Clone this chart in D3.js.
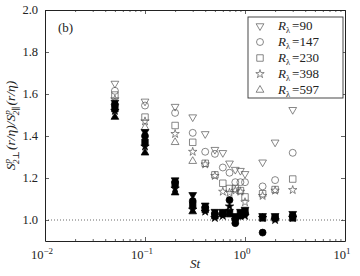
<!DOCTYPE html>
<html>
<head>
<meta charset="utf-8">
<script src="https://cdn.jsdelivr.net/npm/d3@7"></script>
<style>
  body { margin: 0; background: #fff; }
  svg text { font-family: "Liberation Serif", "DejaVu Serif", serif; fill: #222; }
</style>
</head>
<body>
<div id="chart"></div>
<script>
// Stokes numbers at which each R_lambda was measured
const stAll = [0.05, 0.1, 0.2, 0.3, 0.4, 0.5, 0.6, 0.7, 0.8, 0.9, 1.0, 1.5, 2.0, 3.0];
const stLow = [0.05, 0.1, 0.2, 0.3];

const labels = ["90", "147", "230", "398", "597"];
const shapes = ["tri-down", "circle", "square", "star", "tri-up"];

// open markers: ratio at one separation
const open90  = [1.65, 1.565, 1.54, 1.49, 1.41, 1.335, 1.32, 1.27, 1.24, 1.235, 1.22, 1.275, 1.37, 1.525];
const open147 = [1.615, 1.545, 1.51, 1.415, 1.325, 1.315, 1.25, 1.225, 1.18, 1.18, 1.18, 1.16, 1.19, 1.32];
const open230 = [1.595, 1.49, 1.45, 1.37, 1.27, 1.215, 1.175, 1.15, 1.15, 1.14, 1.11, 1.125, 1.145, 1.195];
const open398 = [1.575, 1.47, 1.41, 1.325, 1.265, 1.21, 1.135, 1.13, 1.14, 1.135, 1.085, 1.115, 1.14, 1.143];
const open597 = [1.56, 1.44, 1.37, 1.28];

// filled markers: ratio at the other separation
const fill90  = [1.56, 1.42, 1.19, 1.12, 1.07, 1.04, 1.04, 1.04, 1.02, 1.04, 1.05, 1.02, 1.02, 1.03];
const fill147 = [1.55, 1.40, 1.18, 1.09, 1.06, 1.03, 1.03, 1.095, 0.985, 1.02, 1.03, 0.94, 1.01, 1.02];
const fill230 = [1.53, 1.37, 1.17, 1.07, 1.05, 1.02, 1.03, 1.03, 1.01, 1.03, 1.04, 1.01, 1.01, 1.01];
const fill398 = [1.52, 1.35, 1.15, 1.05, 1.04, 1.01, 1.02, 1.065, 1.00, 1.02, 1.02, 1.01, 1.00, 1.01];
const fill597 = [1.49, 1.32, 1.13, 1.04];

const series = [
  { st: stAll, open: open90,  fill: fill90 },
  { st: stAll, open: open147, fill: fill147 },
  { st: stAll, open: open230, fill: fill230 },
  { st: stAll, open: open398, fill: fill398 },
  { st: stLow, open: open597, fill: fill597 },
];

const W = 360, H = 276;
const m = { left: 45, right: 15, top: 10, bottom: 35 };

const svg = d3.select("#chart").append("svg").attr("width", W).attr("height", H);

const x = d3.scaleLog().domain([0.01, 10]).range([m.left, W - m.right]);
const y = d3.scaleLinear().domain([0.9, 2.0]).range([H - m.bottom, m.top]);

const symbolFor = {
  "tri-down": d3.symbol(d3.symbolTriangle, 26),
  "tri-up": d3.symbol(d3.symbolTriangle, 26),
  "circle": d3.symbol(d3.symbolCircle, 38),
  "square": d3.symbol(d3.symbolSquare, 42),
  "star": d3.symbol(d3.symbolStar, 22),
};
const rot = s => s === "tri-down" ? " rotate(180)" : "";

// dotted reference line at 1
svg.append("line")
  .attr("x1", x(0.01)).attr("x2", x(10))
  .attr("y1", y(1)).attr("y2", y(1))
  .attr("stroke", "#444").attr("stroke-width", 0.8)
  .attr("stroke-dasharray", "1,2");

// markers
series.forEach((s, i) => {
  svg.append("g").selectAll("path").data(s.st.map((st, k) => [st, s.open[k]])).join("path")
    .attr("d", symbolFor[shapes[i]])
    .attr("transform", d => `translate(${x(d[0])},${y(d[1])})${rot(shapes[i])}`)
    .attr("fill", "none").attr("stroke", "#555").attr("stroke-width", 0.7);
});
series.forEach((s, i) => {
  svg.append("g").selectAll("path").data(s.st.map((st, k) => [st, s.fill[k]])).join("path")
    .attr("d", symbolFor[shapes[i]])
    .attr("transform", d => `translate(${x(d[0])},${y(d[1])})${rot(shapes[i])}`)
    .attr("fill", "#000").attr("stroke", "#000").attr("stroke-width", 0.7);
});

// axes frame, ticks pointing inward
const yTicks = [1.0, 1.2, 1.4, 1.6, 1.8, 2.0];
const blank = () => "";
function styleAxis(g) {
  g.select(".domain").attr("stroke", "#222").attr("stroke-width", 1);
  g.selectAll(".tick line").attr("stroke", "#222").attr("stroke-width", 0.7);
}
function halveMinor(g) {
  g.selectAll(".tick").filter(d => {
    const l = Math.log10(d);
    return Math.abs(l - Math.round(l)) > 1e-6;
  }).select("line").attr("y2", function () { return +d3.select(this).attr("y2") / 2; });
}
svg.append("g").attr("transform", `translate(0,${H - m.bottom})`)
  .call(d3.axisBottom(x).tickSizeInner(-4).tickSizeOuter(0).tickFormat(blank))
  .call(styleAxis).call(halveMinor);
svg.append("g").attr("transform", `translate(0,${m.top})`)
  .call(d3.axisTop(x).tickSizeInner(-4).tickSizeOuter(0).tickFormat(blank))
  .call(styleAxis).call(halveMinor);
svg.append("g").attr("transform", `translate(${m.left},0)`)
  .call(d3.axisLeft(y).tickValues(yTicks).tickSizeInner(-4).tickSizeOuter(0).tickFormat(blank))
  .call(styleAxis);
svg.append("g").attr("transform", `translate(${W - m.right},0)`)
  .call(d3.axisRight(y).tickValues(yTicks).tickSizeInner(-4).tickSizeOuter(0).tickFormat(blank))
  .call(styleAxis);

// tick labels
svg.append("g").selectAll("text").data(yTicks).join("text")
  .attr("x", m.left - 7).attr("y", d => y(d) + 4)
  .attr("text-anchor", "end").attr("font-size", 12.5)
  .text(d => d.toFixed(1));

const xl = svg.append("g").selectAll("text").data([-2, -1, 0, 1]).join("text")
  .attr("x", d => x(Math.pow(10, d)) - 3).attr("y", H - m.bottom + 18)
  .attr("text-anchor", "middle").attr("font-size", 12.5);
xl.append("tspan").text("10");
xl.append("tspan").attr("dy", -5).attr("font-size", 9).text(d => d < 0 ? "\u2212" + (-d) : d);

// axis titles
svg.append("text").attr("x", x(1) - 50).attr("y", H - 8)
  .attr("font-size", 13).attr("font-style", "italic").attr("text-anchor", "middle")
  .text("St");

const yt = svg.append("text")
  .attr("transform", `translate(15,${y(1.45)}) rotate(-90)`)
  .attr("text-anchor", "middle").attr("font-size", 13.5).attr("font-style", "italic");
yt.append("tspan").text("S");
yt.append("tspan").attr("font-size", 9).attr("dy", -5).text("p");
yt.append("tspan").attr("font-size", 9).attr("dx", -5).attr("dy", 9).text("2\u22A5");
yt.append("tspan").attr("dy", -4).attr("dx", 1).text("(r/\u03B7)/S");
yt.append("tspan").attr("font-size", 9).attr("dy", -5).text("p");
yt.append("tspan").attr("font-size", 9).attr("dx", -5).attr("dy", 9).text("2\u2225");
yt.append("tspan").attr("dy", -4).attr("dx", 1).text("(r/\u03B7)");

svg.append("text").attr("x", 58).attr("y", 32).attr("font-size", 13).text("(b)");

// legend
const lg = svg.append("g").attr("transform", "translate(248,17)");
lg.append("rect").attr("width", 95).attr("height", 81)
  .attr("fill", "#fff").attr("stroke", "#333").attr("stroke-width", 0.9);
labels.forEach((lab, i) => {
  const yy = 9 + i * 16;
  lg.append("path").attr("d", symbolFor[shapes[i]])
    .attr("transform", `translate(12,${yy})${rot(shapes[i])}`)
    .attr("fill", "none").attr("stroke", "#555").attr("stroke-width", 0.7);
  const t = lg.append("text").attr("x", 30).attr("y", yy + 4).attr("font-size", 13);
  t.append("tspan").attr("font-style", "italic").text("R");
  t.append("tspan").attr("font-size", 8.5).attr("dy", 3).text("\u03BB");
  t.append("tspan").attr("dy", -3).attr("dx", 2).text("=" + lab);
});
</script>
</body>
</html>
